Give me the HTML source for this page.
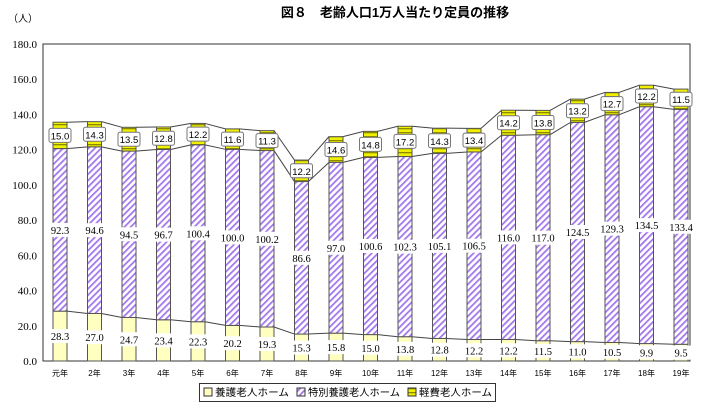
<!DOCTYPE html>
<html><head><meta charset="utf-8"><style>
body{margin:0;background:#fff;}
svg text{font-family:"Liberation Serif","Noto Serif CJK SC",serif;}
</style></head><body>
<svg width="705" height="404" xmlns="http://www.w3.org/2000/svg">
<defs>
<pattern id="hatch" patternUnits="userSpaceOnUse" width="4.5" height="4.5" patternTransform="rotate(45)">
<rect width="4.5" height="4.5" fill="#fff"/><rect width="1.8" height="4.5" fill="#a478ec"/>
</pattern>
<pattern id="hstripe" patternUnits="userSpaceOnUse" width="4" height="4">
<rect width="4" height="4" fill="#f0f000"/><rect width="4" height="1.3" fill="#8a8a00"/>
</pattern>
</defs>
<text x="395" y="17" text-anchor="middle" font-size="13" font-weight="bold" style='font-family:"Liberation Sans","Noto Sans CJK JP",sans-serif'>図８　老齢人口1万人当たり定員の推移</text>
<text x="8" y="22" font-size="10" style='font-family:"Liberation Sans","Noto Sans CJK JP",sans-serif'>（人）</text>
<rect x="43" y="44" width="647" height="317" fill="none" stroke="#333" stroke-width="1"/>
<g id="yaxis"></g>
<g id="bars"></g>
<g id="xaxis"></g>
<g>
<rect x="199.5" y="383.5" width="296" height="18" fill="#fff" stroke="#333"/>
<rect x="204" y="388" width="8" height="8" fill="#ffffc0" stroke="#333"/>
<text x="215" y="396" font-size="10" textLength="74" lengthAdjust="spacingAndGlyphs" style='font-family:"Liberation Sans","Noto Sans CJK JP",sans-serif'>養護老人ホーム</text>
<rect x="297" y="388" width="8" height="8" fill="url(#hatch)" stroke="#333"/>
<text x="308" y="396" font-size="10" textLength="92" lengthAdjust="spacingAndGlyphs" style='font-family:"Liberation Sans","Noto Sans CJK JP",sans-serif'>特別養護老人ホーム</text>
<rect x="408" y="388" width="8" height="8" fill="url(#hstripe)" stroke="#333"/>
<text x="419" y="396" font-size="10" textLength="73" lengthAdjust="spacingAndGlyphs" style='font-family:"Liberation Sans","Noto Sans CJK JP",sans-serif'>軽費老人ホーム</text>
</g>
</svg>
<script>
const categories=["元年","2年","3年","4年","5年","6年","7年","8年","9年","10年","11年","12年","13年","14年","15年","16年","17年","18年","19年"];
const yogo=[28.3,27.0,24.7,23.4,22.3,20.2,19.3,15.3,15.8,15.0,13.8,12.8,12.2,12.2,11.5,11.0,10.5,9.9,9.5];
const tokubetsu=[92.3,94.6,94.5,96.7,100.4,100.0,100.2,86.6,97.0,100.6,102.3,105.1,106.5,116.0,117.0,124.5,129.3,134.5,133.4];
const keihi=[15.0,14.3,13.5,12.8,12.2,11.6,11.3,12.2,14.6,14.8,17.2,14.3,13.4,14.2,13.8,13.2,12.7,12.2,11.5];
const yTicks=["0.0","20.0","40.0","60.0","80.0","100.0","120.0","140.0","160.0","180.0"];
const NS="http://www.w3.org/2000/svg";
const y=v=>361-v*317/180;
const xc=i=>60+i*34.5;
const BW=14;
function mk(tag,attrs,parent){const e=document.createElementNS(NS,tag);for(const k in attrs)e.setAttribute(k,attrs[k]);parent.appendChild(e);return e;}
const ya=document.getElementById('yaxis');
yTicks.forEach(t=>{const e=mk('text',{x:37,y:y(+t)+4,'text-anchor':'end','font-size':11},ya);e.textContent=t;

});
const bg=document.getElementById('bars');
const series=[yogo,tokubetsu,keihi];
for(let s=0;s<3;s++){
  for(let i=0;i<categories.length-1;i++){
    let a=0,b=0;for(let k=0;k<=s;k++){a+=series[k][i];b+=series[k][i+1];}
    const l=mk('line',{x1:xc(i)+BW/2,y1:y(a),x2:xc(i+1)-BW/2,y2:y(b),stroke:'#444','stroke-width':1},bg);
    
    
  }
}
const fills=['#ffffc0','url(#hatch)','url(#hstripe)'];
const names=['bar-yogo','bar-tokubetsu','bar-keihi'];
categories.forEach((c,i)=>{
  let base=0;
  for(let s=0;s<3;s++){
    const v=series[s][i];
    const r=mk('rect',{x:xc(i)-BW/2,y:y(base+v),width:BW,height:y(base)-y(base+v),fill:fills[s],stroke:'#555','stroke-width':1},bg);
    
    
    base+=v;
  }
});
categories.forEach((c,i)=>{
  let base=0;
  for(let s=0;s<3;s++){
    const v=series[s][i];const cy=(y(base)+y(base+v))/2;
    const txt=v.toFixed(1);const w=txt.length>4?26:22;
    const bx=mk('rect',{x:xc(i)-w/2,y:cy-7,width:w,height:14,fill:'#fff',stroke:s==2?'#777':'none',rx:s==2?2:0},bg);
    
    
    const t=mk('text',{x:xc(i),y:cy+4,'text-anchor':'middle','font-size':s==2?9.5:10.5},bg);
    if(s==2)t.setAttribute('style','font-family:"Liberation Sans",sans-serif');
    t.textContent=txt;
    
    
    base+=v;
  }
});
const xa=document.getElementById('xaxis');
categories.forEach((c,i)=>{const t=mk('text',{x:xc(i),y:376,'text-anchor':'middle','font-size':8,style:'font-family:"Liberation Sans","Noto Sans CJK JP",sans-serif'},xa);t.textContent=c;

});
</script>
</body></html>
